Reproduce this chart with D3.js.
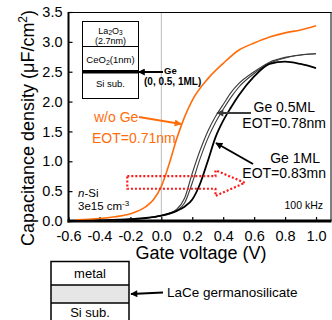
<!DOCTYPE html>
<html>
<head>
<meta charset="utf-8">
<script src="https://cdn.jsdelivr.net/npm/d3@7"></script>
<style>
  body { margin: 0; background: #fff; }
  svg { font-family: Arial, "Liberation Sans", sans-serif; }
</style>
</head>
<body>
<svg id="chart" width="332" height="320"></svg>
<script>
// gate voltage (V) and capacitance density (uF/cm2)
const vNoGe = [-0.55, -0.4, -0.3, -0.2, -0.1, -0.05, 0, 0.05, 0.1, 0.15, 0.2, 0.3, 0.4, 0.5, 0.6, 0.7, 0.8, 0.9, 1.0];
const cNoGe = [0.02, 0.04, 0.07, 0.12, 0.24, 0.36, 0.58, 0.95, 1.38, 1.74, 2.02, 2.38, 2.64, 2.86, 2.98, 3.08, 3.15, 3.2, 3.27];

const vGe05 = [-0.6, -0.4, -0.2, -0.1, 0, 0.1, 0.15, 0.2, 0.25, 0.3, 0.35, 0.4, 0.45, 0.5, 0.6, 0.7, 0.8, 0.9, 1.0];
const cGe05a = [0.0, 0.01, 0.03, 0.05, 0.09, 0.2, 0.38, 0.8, 1.18, 1.5, 1.75, 1.95, 2.15, 2.3, 2.5, 2.66, 2.74, 2.78, 2.8];
const cGe05b = [0.0, 0.01, 0.03, 0.05, 0.09, 0.18, 0.3, 0.64, 1.04, 1.38, 1.65, 1.87, 2.07, 2.24, 2.47, 2.64, 2.73, 2.78, 2.8];

const vGe1 = [-0.6, -0.4, -0.2, -0.1, 0, 0.1, 0.15, 0.2, 0.25, 0.3, 0.35, 0.4, 0.45, 0.5, 0.6, 0.7, 0.8, 0.9, 1.0];
const cGe1 = [0.0, 0.01, 0.03, 0.05, 0.09, 0.17, 0.24, 0.36, 0.62, 1.0, 1.4, 1.68, 1.9, 2.1, 2.42, 2.63, 2.67, 2.63, 2.56];

const xTicks = [-0.6, -0.4, -0.2, 0, 0.2, 0.4, 0.6, 0.8, 1.0];
const yTicks = [0, 0.5, 1.0, 1.5, 2.0, 2.5, 3.0, 3.5];

// red dotted "shift" arrow outline, in data units
const shiftArrow = [[-0.22, 0.75], [0.35, 0.75], [0.35, 0.85], [0.54, 0.64], [0.35, 0.42], [0.35, 0.54], [-0.22, 0.54]];

const orange = "#ff6d0a";
const pL = 68.5, pR = 331.5, pT = 12, pB = 221;

const svg = d3.select("#chart");

const x = d3.scaleLinear().domain([-0.6, 1.1]).range([pL, pR]);
const y = d3.scaleLinear().domain([0, 3.5]).range([pB, pT]);

// arrow heads
const defs = svg.append("defs");
function marker(id, color, w, h) {
  defs.append("marker")
    .attr("id", id)
    .attr("viewBox", "0 0 10 10")
    .attr("refX", 9).attr("refY", 5)
    .attr("markerUnits", "userSpaceOnUse")
    .attr("markerWidth", w).attr("markerHeight", h)
    .attr("orient", "auto")
    .append("path")
    .attr("d", "M0,0 L10,5 L0,10 Z")
    .attr("fill", color);
}
marker("hOrange", orange, 9, 7);
marker("hGray", "#3c3c3c", 9, 7);
marker("hBlack", "#000", 9, 7);

// zero line
svg.append("line")
  .attr("x1", x(0)).attr("x2", x(0))
  .attr("y1", pT).attr("y2", pB)
  .attr("stroke", "#bdbdbd").attr("stroke-width", 1);

// axes, inward ticks
const xAxis = svg.append("g")
  .attr("transform", `translate(0,${pB})`)
  .call(d3.axisBottom(x).tickValues(xTicks).tickSizeInner(-4).tickSizeOuter(0)
    .tickPadding(10).tickFormat(d => d.toFixed(1)));
const yAxis = svg.append("g")
  .attr("transform", `translate(${pL},0)`)
  .call(d3.axisLeft(y).tickValues(yTicks).tickSizeInner(-4).tickSizeOuter(0)
    .tickPadding(6).tickFormat(d => d.toFixed(1)));
[xAxis, yAxis].forEach(g => {
  g.select(".domain").remove();
  g.selectAll(".tick line").attr("stroke", "#000").attr("stroke-width", 1.2);
  g.selectAll(".tick text").attr("font-size", 14.5).attr("fill", "#000")
    .attr("font-family", "Arial, 'Liberation Sans', sans-serif");
});

// frame
svg.append("line").attr("x1", pL).attr("x2", pR).attr("y1", pT + 0.5).attr("y2", pT + 0.5)
  .attr("stroke", "#000").attr("stroke-width", 1);
svg.append("line").attr("x1", pR - 0.5).attr("x2", pR - 0.5).attr("y1", pT).attr("y2", pB)
  .attr("stroke", "#000").attr("stroke-width", 1);
svg.append("line").attr("x1", pL).attr("x2", pL).attr("y1", pT).attr("y2", pB + 1.5)
  .attr("stroke", "#000").attr("stroke-width", 2);
svg.append("line").attr("x1", pL - 1).attr("x2", pR).attr("y1", pB).attr("y2", pB)
  .attr("stroke", "#000").attr("stroke-width", 3);

// axis titles
svg.append("text")
  .attr("transform", `translate(34,${(pT + 240) / 2 + 2}) rotate(-90)`)
  .attr("text-anchor", "middle").attr("font-size", 18)
  .html('Capacitance density (μF/cm<tspan dy="-7" font-size="12">2</tspan><tspan dy="7">)</tspan>');
svg.append("text")
  .attr("x", 201).attr("y", 259)
  .attr("text-anchor", "middle").attr("font-size", 18)
  .text("Gate voltage (V)");

// curves
const line = d3.line().x(d => x(d[0])).y(d => y(d[1])).curve(d3.curveMonotoneX);
const series = [
  { v: vNoGe, c: cNoGe, color: orange, w: 1.6 },
  { v: vGe05, c: cGe05a, color: "#3a3a3a", w: 1.1 },
  { v: vGe05, c: cGe05b, color: "#3a3a3a", w: 1.1 },
  { v: vGe1, c: cGe1, color: "#000", w: 1.8 }
];
svg.selectAll("path.curve")
  .data(series)
  .enter()
  .append("path")
  .attr("class", "curve")
  .attr("d", s => line(s.v.map((v, i) => [v, s.c[i]])))
  .attr("fill", "none")
  .attr("stroke", s => s.color)
  .attr("stroke-width", s => s.w);

// red dotted shift arrow
svg.append("path")
  .attr("d", d3.line().x(d => x(d[0])).y(d => y(d[1]))(shiftArrow) + "Z")
  .attr("fill", "none")
  .attr("stroke", "#ff1a1a")
  .attr("stroke-width", 2.2)
  .attr("stroke-dasharray", "2,2");

// annotations
function label(txt, px, py, size, color, anchor, weight) {
  return svg.append("text").attr("x", px).attr("y", py)
    .attr("font-size", size).attr("fill", color || "#000")
    .attr("text-anchor", anchor || "start")
    .attr("font-weight", weight || "normal")
    .text(txt);
}
function arrow(x1, y1, x2, y2, color, w, head) {
  svg.append("line").attr("x1", x1).attr("y1", y1).attr("x2", x2).attr("y2", y2)
    .attr("stroke", color).attr("stroke-width", w)
    .attr("marker-end", `url(#${head})`);
}

label("w/o Ge", 94, 122, 14, orange);
label("EOT=0.71nm", 92, 143, 14, orange);
arrow(139, 117, 181, 124, orange, 1.8, "hOrange");

label("Ge 0.5ML", 315, 112, 14, "#000", "end");
label("EOT=0.78nm", 326, 128, 14, "#000", "end");
arrow(251, 113, 217, 113, "#3c3c3c", 2, "hGray");

label("Ge 1ML", 320, 163, 14, "#000", "end");
label("EOT=0.83mn", 326, 178, 14, "#000", "end");
arrow(253, 164, 216, 143, "#000", 2, "hBlack");

label("100 kHz", 323, 209, 10.5, "#000", "end");

svg.append("text").attr("x", 78).attr("y", 197).attr("font-size", 11.5)
  .html('<tspan font-style="italic">n</tspan>-Si');
svg.append("text").attr("x", 78).attr("y", 210).attr("font-size", 11.5)
  .html('3e15 cm<tspan dy="-4" font-size="8">-3</tspan>');

// layer stack inset
const stack = svg.append("g");
stack.append("rect").attr("x", 82.5).attr("y", 21.5).attr("width", 56).attr("height", 77)
  .attr("fill", "#fff").attr("stroke", "#000").attr("stroke-width", 1);
stack.append("line").attr("x1", 82.5).attr("x2", 138.5).attr("y1", 46.5).attr("y2", 46.5)
  .attr("stroke", "#000").attr("stroke-width", 1);
stack.append("line").attr("x1", 82.5).attr("x2", 138.5).attr("y1", 71.8).attr("y2", 71.8)
  .attr("stroke", "#000").attr("stroke-width", 3.5);
stack.append("text").attr("x", 110.5).attr("y", 33.6).attr("text-anchor", "middle").attr("font-size", 9)
  .html('La<tspan dy="1.5" font-size="6.5">2</tspan><tspan dy="-1.5">O</tspan><tspan dy="1.5" font-size="6.5">3</tspan>');
stack.append("text").attr("x", 110.5).attr("y", 44.2).attr("text-anchor", "middle").attr("font-size", 9)
  .text("(2.7nm)");
stack.append("text").attr("x", 110.5).attr("y", 62.5).attr("text-anchor", "middle").attr("font-size", 9.5)
  .html('CeO<tspan dy="2" font-size="7">2</tspan><tspan dy="-2">(1nm)</tspan>');
stack.append("text").attr("x", 110.5).attr("y", 87).attr("text-anchor", "middle").attr("font-size", 9.5)
  .text("Si sub.");
arrow(163, 72, 138.5, 72, "#000", 2, "hBlack");
label("Ge", 164, 73.5, 9.5, "#000", "start", "bold");
label("(0, 0.5, 1ML)", 144, 85, 10, "#000", "start", "bold");

// bottom inset
const st2 = svg.append("g");
st2.append("rect").attr("x", 51).attr("y", 285).attr("width", 78).attr("height", 18)
  .attr("fill", "#e6e6e6");
st2.append("rect").attr("x", 51).attr("y", 261.5).attr("width", 78).attr("height", 62)
  .attr("fill", "none").attr("stroke", "#000").attr("stroke-width", 1.5);
[285, 303].forEach(py => st2.append("line").attr("x1", 51).attr("x2", 129).attr("y1", py).attr("y2", py)
  .attr("stroke", "#000").attr("stroke-width", 1.5));
st2.append("text").attr("x", 90).attr("y", 278).attr("text-anchor", "middle").attr("font-size", 13).text("metal");
st2.append("text").attr("x", 90).attr("y", 317).attr("text-anchor", "middle").attr("font-size", 13).text("Si sub.");
arrow(163, 292.5, 131, 294, "#000", 2, "hBlack");
label("LaCe germanosilicate", 167, 297, 13.5);
</script>
</body>
</html>
